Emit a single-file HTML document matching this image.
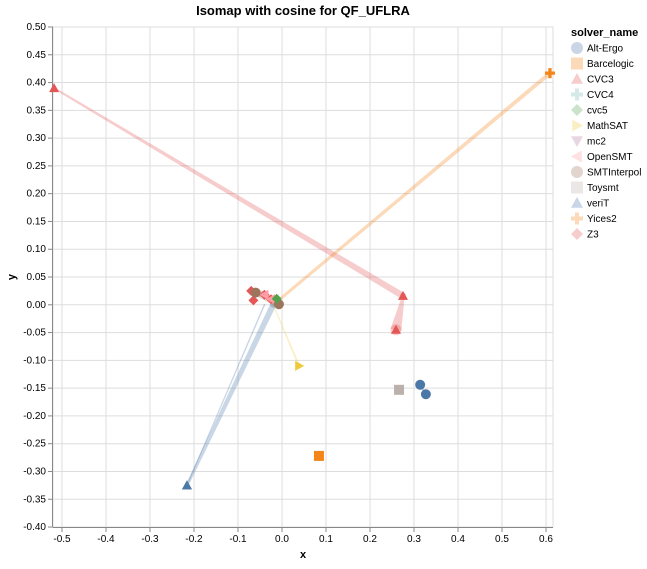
<!DOCTYPE html>
<html><head><meta charset="utf-8"><style>
body{margin:0;background:#fff;font-family:"Liberation Sans",sans-serif}
svg text{font-family:"Liberation Sans",sans-serif}
</style></head><body>
<svg id="c" width="647" height="564"></svg>
<script>
const solvers=["Alt-Ergo","Barcelogic","CVC3","CVC4","cvc5","MathSAT","mc2","OpenSMT","SMTInterpol","Toysmt","veriT","Yices2","Z3"];
const colors=["#4c78a8","#f58518","#e45756","#72b7b2","#54a24b","#eeca3b","#b279a2","#ff9da6","#9d755d","#bab0ac","#4c78a8","#f58518","#e45756"];
const shapes=["circle","square","triangle","cross","diamond","right","down","left","circle","square","triangle","cross","diamond"];
const altX=[0.314,0.327], altY=[-0.144,-0.161];
const barX=[0.084], barY=[-0.272];
const toyX=[0.266], toyY=[-0.153];
const cvc3X=[-0.518,0.275,0.259], cvc3Y=[0.390,0.016,-0.045];
const yicesX=[-0.02,0.609], yicesY=[0.0,0.417];
const mathX=[-0.02,0.039], mathY=[0.0,-0.110];
const veritX=[-0.02,-0.216], veritY=[0.0,-0.325];
const verit2X=[-0.04,-0.216], verit2Y=[0.0,-0.325];
const z3X=[-0.070,-0.040,-0.025,-0.010], z3Y=[0.025,0.018,0.010,0.005];
const z3bX=[-0.065], z3bY=[0.008];
const cvc5X=[-0.012], cvc5Y=[0.011];
const smtiX=[-0.060,-0.007], smtiY=[0.022,0.001];
const osX=[-0.040,-0.025], osY=[0.018,0.010];
const xTicks=[-0.5,-0.4,-0.3,-0.2,-0.1,0,0.1,0.2,0.3,0.4,0.5,0.6];
const yTicks=[0.5,0.45,0.4,0.35,0.3,0.25,0.2,0.15,0.1,0.05,0,-0.05,-0.1,-0.15,-0.2,-0.25,-0.3,-0.35,-0.4];

const L=53,R=553,T=27,B=527;
const X=v=>282+v*440, Y=v=>304.8-v*555.6;
const svg=document.getElementById('c');const NS="http://www.w3.org/2000/svg";
function mk(t,a,p){const e=document.createElementNS(NS,t);for(const k in a)e.setAttribute(k,a[k]);(p||svg).appendChild(e);return e;}
function txt(x,y,s,a){const e=mk('text',Object.assign({x:x,y:y,'font-size':10,fill:'#000'},a||{}));e.textContent=s;return e;}
const g=mk('g',{});
xTicks.forEach(v=>{mk('line',{x1:X(v),x2:X(v),y1:T,y2:B,stroke:'#ddd'},g);});
yTicks.forEach(v=>{mk('line',{x1:L,x2:R,y1:Y(v),y2:Y(v),stroke:'#ddd'},g);});
mk('rect',{x:L,y:T,width:R-L,height:B-T,fill:'none',stroke:'#ddd'});
const xa=mk('g',{});
mk('line',{x1:L,x2:R,y1:B+0.5,y2:B+0.5,stroke:'#888'},xa);
xTicks.forEach(v=>{mk('line',{x1:X(v),x2:X(v),y1:B,y2:B+5,stroke:'#888'},xa);txt(X(v),B+15,v.toFixed(1),{'text-anchor':'middle'});});
const ya=mk('g',{});
mk('line',{x1:L-0.5,x2:L-0.5,y1:T,y2:B,stroke:'#888'},ya);
yTicks.forEach(v=>{mk('line',{x1:L-5,x2:L,y1:Y(v),y2:Y(v),stroke:'#888'},ya);txt(L-7,Y(v)+3,v.toFixed(2),{'text-anchor':'end'});});
const xt=txt(303,558,'x',{'text-anchor':'middle','font-weight':'bold','font-size':11});
const yt=txt(15,277,'y',{'text-anchor':'middle','font-weight':'bold','font-size':11,transform:'rotate(-90 15 277)'});
const tt=txt(303,15,'Isomap with cosine for QF_UFLRA',{'text-anchor':'middle','font-weight':'bold','font-size':13});

function shape(s,x,y,r,fill,p,op){
 let e;
 if(s==='circle')e=mk('circle',{cx:x,cy:y,r:r},p);
 else if(s==='square')e=mk('rect',{x:x-r,y:y-r,width:2*r,height:2*r},p);
 else{let pts;
  if(s==='triangle')pts=[[0,-r],[r,r*0.8],[-r,r*0.8]];
  else if(s==='down')pts=[[0,r],[r,-r*0.8],[-r,-r*0.8]];
  else if(s==='right')pts=[[r,0],[-r*0.8,r],[-r*0.8,-r]];
  else if(s==='left')pts=[[-r,0],[r*0.8,r],[r*0.8,-r]];
  else if(s==='diamond')pts=[[0,-r],[r,0],[0,r],[-r,0]];
  else {const a=r/3;pts=[[-a,-r],[a,-r],[a,-a],[r,-a],[r,a],[a,a],[a,r],[-a,r],[-a,a],[-r,a],[-r,-a],[-a,-a]];}
  e=mk('polygon',{points:pts.map(q=>(x+q[0])+','+(y+q[1])).join(' ')},p);}
 e.setAttribute('fill',fill);if(op)e.setAttribute('fill-opacity',op);return e;}

// [solverIndex, xs, ys, startWidth, endWidth]
const series=[[0,altX,altY,2,2],[1,barX,barY,2,2],[9,toyX,toyY,2,2],[2,cvc3X,cvc3Y,2,11],[11,yicesX,yicesY,3,4],[5,mathX,mathY,1,2],[10,veritX,veritY,6,3],[10,verit2X,verit2Y,1.5,1],[12,z3X,z3Y,6,6],[12,z3bX,z3bY,2,2],[7,osX,osY,6,6],[8,smtiX,smtiY,6,6],[4,cvc5X,cvc5Y,2,2]];
const tg=mk('g',{});
series.forEach(s=>{const [i,xs,ys,w0,w1]=s;if(xs.length<2)return;
 const n=xs.length-1;
 const grp=mk('g',{fill:colors[i],'fill-opacity':0.3},tg);
 
 // build polygon with tapering width
 const P=xs.map((v,k)=>[X(v),Y(ys[k])]);
 const W=P.map((_,k)=>(w0+(w1-w0)*k/n)/2);
 const left=[],right=[];
 P.forEach((p,k)=>{const a=P[Math.max(0,k-1)],b=P[Math.min(n,k+1)];
  let dx=b[0]-a[0],dy=b[1]-a[1];const d=Math.hypot(dx,dy)||1;const nx=-dy/d,ny=dx/d;
  left.push((p[0]+nx*W[k])+','+(p[1]+ny*W[k]));right.unshift((p[0]-nx*W[k])+','+(p[1]-ny*W[k]));});
 mk('polygon',{points:left.concat(right).join(' ')},grp);
 P.forEach((p,k)=>mk('circle',{cx:p[0],cy:p[1],r:W[k]},grp));
});
const pg=mk('g',{});
series.forEach(s=>{const [i,xs,ys]=s;xs.forEach((v,k)=>{
 if((i===11||i===5||i===10)&&k===0)return;
 const e=shape(shapes[i],X(v),Y(ys[k]),5,colors[i],pg);
 });});
const lg=mk('g',{});
const lt=txt(571,36,'solver_name',{'font-weight':'bold','font-size':11});
solvers.forEach((n,i)=>{const y=48+i*15.5;
 const e=shape(shapes[i],577,y,6,colors[i],lg,0.3);
 const t=txt(587,y+3.5,n);});
</script>
</body></html>
